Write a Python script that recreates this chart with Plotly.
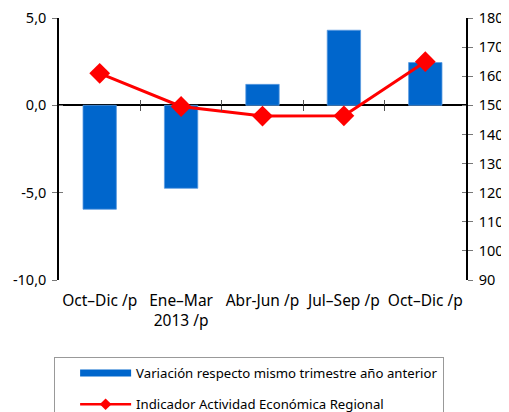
import plotly.graph_objects as go

quarters = ["Oct–Dic /p", "Ene–Mar<br>2013 /p", "Abr-Jun /p", "Jul–Sep /p", "Oct–Dic /p"]
variacion = [-5.95, -4.75, 1.2, 4.3, 2.45]
indicador = [161.0, 149.6, 146.3, 146.4, 165.0]
left_ticks = [-10, -5, 0, 5]
left_labels = ["-10,0", "-5,0", "0,0", "5,0"]
right_ticks = [90, 100, 110, 120, 130, 140, 150, 160, 170, 180]

name_bar = "Variación respecto mismo trimestre año anterior"
name_line = "Indicador Actividad Económica Regional"

blue = "#0066CC"
red = "#FF0000"
font = "Noto Sans"
pos = list(range(len(quarters)))
zero_frac = 10 / 15

fig = go.Figure()
fig.add_trace(
    go.Bar(
        x=pos, y=variacion, width=0.41,
        marker=dict(color=blue, line=dict(color="#5B9BE0", width=0.8)),
        showlegend=False, name=name_bar,
    )
)
fig.add_trace(
    go.Scatter(
        x=pos, y=indicador, name=name_line, yaxis="y2",
        mode="lines+markers", showlegend=False,
        line=dict(color=red, width=3),
        marker=dict(symbol="diamond", size=16, color=red),
    )
)
# legend stand-ins (flat wide swatch, small diamond)
fig.add_trace(
    go.Scatter(
        x=[None], y=[None], mode="lines", name=name_bar, legendgroup="a",
        line=dict(color=blue, width=7),
    )
)
fig.add_trace(
    go.Scatter(
        x=[None], y=[None], mode="lines+markers", name=name_line, legendgroup="b",
        line=dict(color=red, width=2.5),
        marker=dict(symbol="diamond", size=9, color=red),
    )
)

# page body has an 8px margin, so the figure is 8px smaller on each side
fig.update_layout(
    width=501, height=404,
    margin=dict(l=51, r=43, t=10, b=132, autoexpand=False),
    plot_bgcolor="white", paper_bgcolor="white",
    font=dict(family=font, size=15.5, color="black"),
    legend=dict(
        x=-0.012, y=-0.294, xanchor="left", yanchor="top",
        bordercolor="#999999", borderwidth=1,
        font=dict(size=13.2), itemwidth=51, indentation=20,
        tracegroupgap=11,
    ),
    xaxis=dict(
        range=[-0.5, 4.5], tickvals=pos, ticktext=quarters,
        showline=False, showgrid=False, zeroline=False,
        ticks="outside", ticklen=6, tickcolor="rgba(0,0,0,0)",
    ),
    # small ticks between the quarters, crossing the zero line
    xaxis2=dict(
        overlaying="x", matches="x", anchor="free", position=zero_frac,
        tickvals=[0.5, 1.5, 2.5, 3.5], showticklabels=False,
        ticks="outside", ticklen=5, tickcolor="#555555",
        showline=False, showgrid=False, zeroline=False,
    ),
    xaxis3=dict(
        overlaying="x", matches="x", anchor="free", position=zero_frac,
        tickvals=[0.5, 1.5, 2.5, 3.5], showticklabels=False,
        ticks="inside", ticklen=5, tickcolor="#555555",
        showline=False, showgrid=False, zeroline=False,
    ),
    yaxis=dict(
        range=[-10, 5], tickvals=left_ticks, ticktext=left_labels,
        showline=True, linecolor="black", linewidth=1.5,
        ticks="outside", ticklen=5, tickcolor="#777777",
        tickfont=dict(size=14.5),
        ticklabeloverflow="allow", ticklabelstandoff=3,
        showgrid=False, zeroline=True, zerolinecolor="black", zerolinewidth=1.5,
    ),
    yaxis2=dict(
        range=[90, 180], tickvals=right_ticks, overlaying="y", side="right",
        showline=True, linecolor="black", linewidth=1.5,
        ticks="outside", ticklen=5, tickcolor="#777777",
        tickfont=dict(size=14.5),
        ticklabeloverflow="allow", ticklabelstandoff=3,
        showgrid=False, zeroline=False,
    ),
    yaxis3=dict(
        range=[-10, 5], tickvals=left_ticks, overlaying="y", side="left",
        showticklabels=False, ticks="inside", ticklen=4, tickcolor="#777777",
        showline=False, showgrid=False, zeroline=False,
    ),
    yaxis4=dict(
        range=[90, 180], tickvals=right_ticks, overlaying="y", side="right",
        showticklabels=False, ticks="inside", ticklen=4, tickcolor="#777777",
        showline=False, showgrid=False, zeroline=False,
    ),
)
fig.add_trace(go.Scatter(x=[None], y=[None], xaxis="x2", showlegend=False, hoverinfo="skip"))
fig.add_trace(go.Scatter(x=[None], y=[None], xaxis="x3", yaxis="y3", showlegend=False, hoverinfo="skip"))
fig.add_trace(go.Scatter(x=[None], y=[None], yaxis="y4", showlegend=False, hoverinfo="skip"))

fig.write_html("out.html")
